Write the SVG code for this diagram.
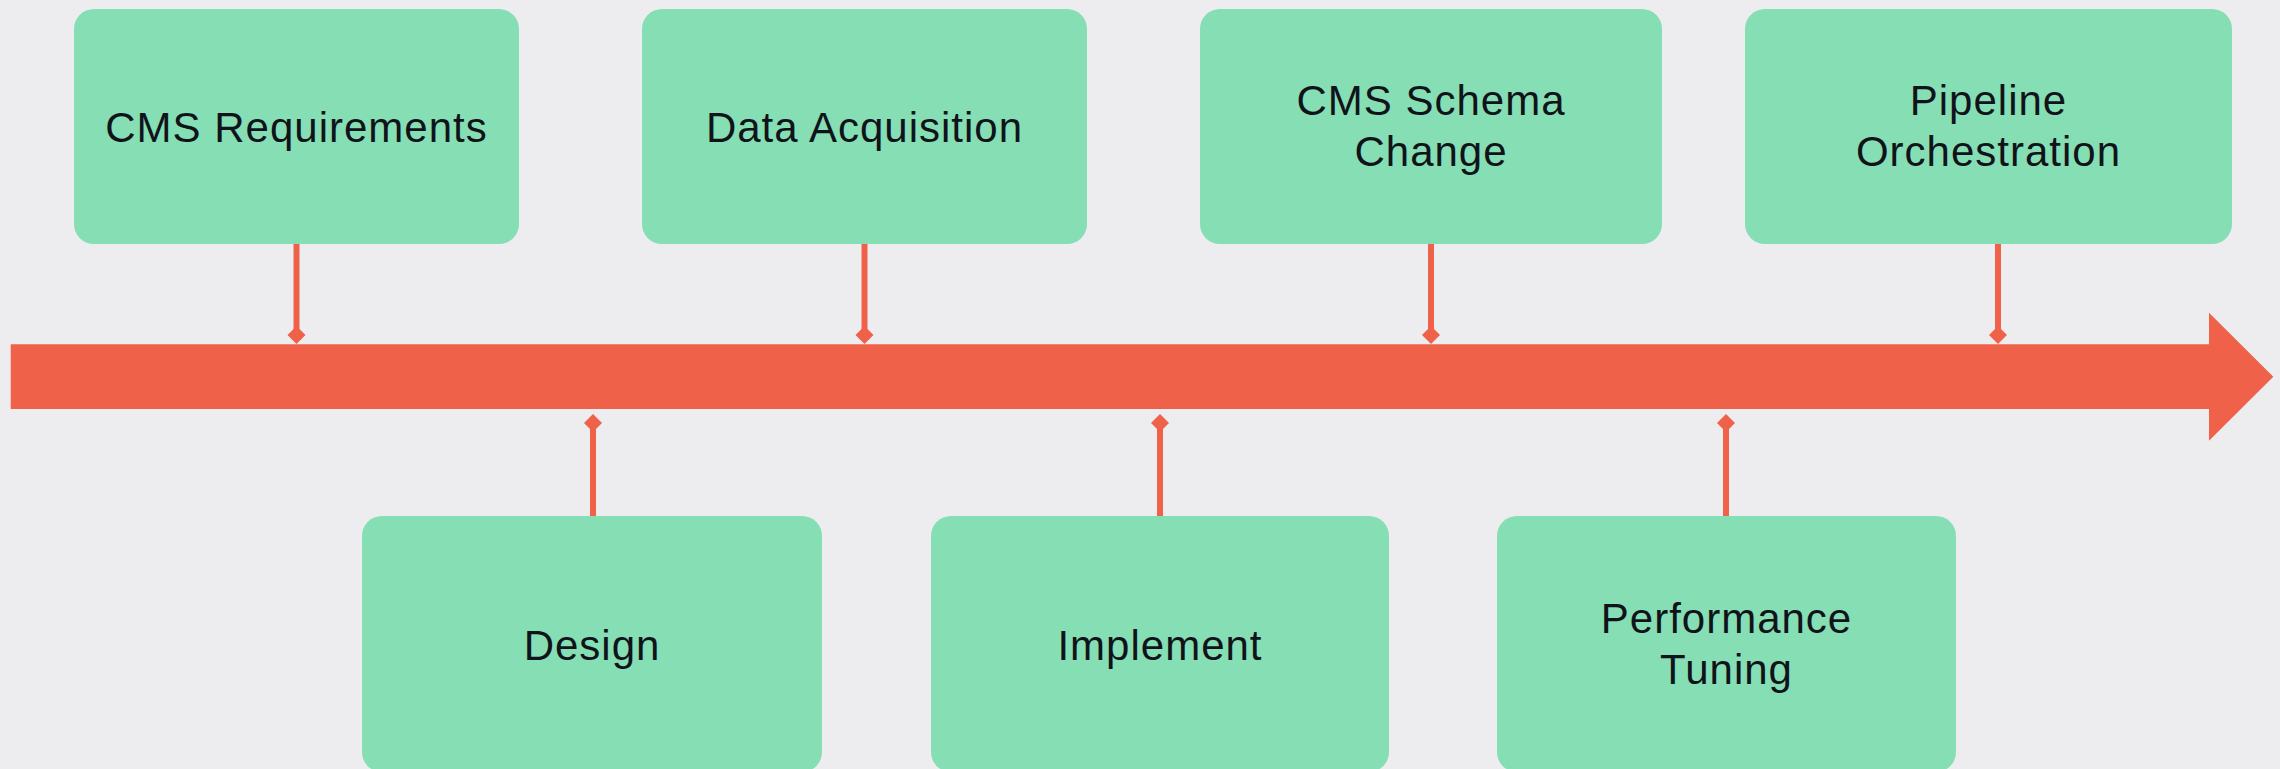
<svg xmlns="http://www.w3.org/2000/svg" width="2280" height="769" viewBox="0 0 2280 769">
  <style>
    .node rect { fill: #85DEB4; }
    .node text { font-family: "Liberation Sans", Arial, sans-serif; font-size: 42px; letter-spacing: 1px; fill: #10141A; text-anchor: middle; }
    .link { stroke: #F0614A; stroke-width: 6; fill: none; }
  </style>
  <defs>
    <marker id="diamond" viewBox="-10 -10 20 20" markerWidth="20" markerHeight="20" markerUnits="userSpaceOnUse" orient="auto" refX="0" refY="0">
      <path d="M-9,0 L0,-9 L9,0 L0,9 Z" fill="#F0614A"/>
    </marker>
  </defs>

  <rect width="2280" height="769" fill="#EDEDF0"/>

  <!-- timeline axis -->
  <polygon id="axis" points="10.7,344.3 2209,344.3 2209,312.7 2273.3,376.7 2209,440.7 2209,409 10.7,409" fill="#F0614A"/>

  <!-- connectors from each milestone to the axis -->
  <g id="connectors">
    <line class="link" x1="296.5" y1="244" x2="296.5" y2="335" marker-end="url(#diamond)"/>
    <line class="link" x1="864.5" y1="244" x2="864.5" y2="335" marker-end="url(#diamond)"/>
    <line class="link" x1="1431" y1="244" x2="1431" y2="335" marker-end="url(#diamond)"/>
    <line class="link" x1="1998" y1="244" x2="1998" y2="335" marker-end="url(#diamond)"/>
    <line class="link" x1="593" y1="516" x2="593" y2="423" marker-end="url(#diamond)"/>
    <line class="link" x1="1160" y1="516" x2="1160" y2="423" marker-end="url(#diamond)"/>
    <line class="link" x1="1726" y1="516" x2="1726" y2="423" marker-end="url(#diamond)"/>
  </g>

  <!-- milestones above the axis -->
  <g id="cms-requirements" class="node">
    <rect x="74" y="9" width="445" height="235" rx="20"/>
    <text x="296.5" y="141.5">CMS Requirements</text>
  </g>
  <g id="data-acquisition" class="node">
    <rect x="642" y="9" width="445" height="235" rx="20"/>
    <text x="864.5" y="141.5">Data Acquisition</text>
  </g>
  <g id="cms-schema-change" class="node">
    <rect x="1200" y="9" width="462" height="235" rx="20"/>
    <text x="1431" y="115">CMS Schema</text>
    <text x="1431" y="166">Change</text>
  </g>
  <g id="pipeline-orchestration" class="node">
    <rect x="1745" y="9" width="487" height="235" rx="20"/>
    <text x="1988.5" y="115">Pipeline</text>
    <text x="1988.5" y="166">Orchestration</text>
  </g>

  <!-- milestones below the axis -->
  <g id="design" class="node">
    <rect x="362" y="516" width="460" height="256" rx="20"/>
    <text x="592" y="660">Design</text>
  </g>
  <g id="implement" class="node">
    <rect x="931" y="516" width="458" height="256" rx="20"/>
    <text x="1160" y="660">Implement</text>
  </g>
  <g id="performance-tuning" class="node">
    <rect x="1497" y="516" width="459" height="256" rx="20"/>
    <text x="1726.5" y="633">Performance</text>
    <text x="1726.5" y="684">Tuning</text>
  </g>
</svg>
